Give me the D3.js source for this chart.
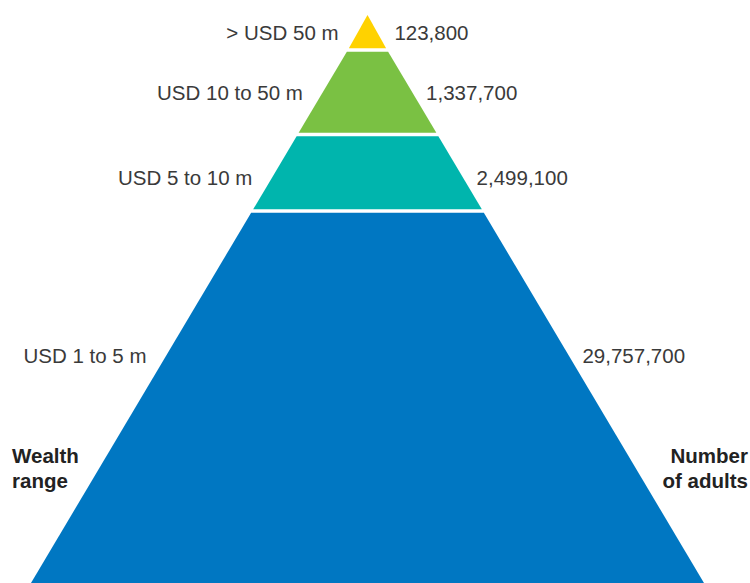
<!DOCTYPE html>
<html>
<head>
<meta charset="utf-8">
<script src="https://cdn.jsdelivr.net/npm/d3@7"></script>
<style>
  html, body { margin: 0; padding: 0; background: #fff; }
  svg { display: block; }
</style>
</head>
<body>
<svg id="chart" width="750" height="583"></svg>
<script>
// ---- data ----
const categories = ["> USD 50 m", "USD 10 to 50 m", "USD 5 to 10 m", "USD 1 to 5 m"];
const adults = [123800, 1337700, 2499100, 29757700];
const colors = ["#FFD200", "#7AC143", "#00B5AD", "#0077C2"];
const axisTitleLeft = ["Wealth", "range"];
const axisTitleRight = ["Number", "of adults"];

// ---- layout ----
const W = 750, H = 583;
const cx = 367.5, apexY = 17, baseY = 583, baseHalf = 336.5;
const tierBounds = [15, 50, 134.5, 211, 583];   // tier edges (top of pyramid to base)
const gap = 3.4;                                 // white separator
const labelY = [32, 92, 177, 355];

const svg = d3.select("#chart");

// half width of the pyramid at a given y
const half = d3.scaleLinear().domain([apexY, baseY]).range([0, baseHalf]);
const hw = y => Math.max(0, half(y));

const fmt = d3.format(",");

const tiers = categories.map((c, i) => ({
  cat: c, value: adults[i], color: colors[i],
  top: i === 0 ? tierBounds[0] : tierBounds[i] + gap / 2,
  bottom: i === categories.length - 1 ? tierBounds[i + 1] : tierBounds[i + 1] - gap / 2,
  ly: labelY[i]
}));

svg.selectAll("path.tier").data(tiers).join("path")
  .attr("class", "tier")
  .attr("fill", d => d.color)
  .attr("d", (d, i) => {
    const t = d.top, b = d.bottom;
    let topHalf = hw(t);
    if (i === 0) topHalf = 0;
    const p = d3.path();
    p.moveTo(cx - topHalf, t);
    p.lineTo(cx + topHalf, t);
    p.lineTo(cx + hw(b), b);
    p.lineTo(cx - hw(b), b);
    p.closePath();
    return p.toString();
  });

const font = "'Liberation Sans', Arial, Helvetica, sans-serif";
const fs = 20.5;

svg.selectAll("text.cat").data(tiers).join("text")
  .attr("class", "cat")
  .attr("x", d => cx - hw(d.ly) - 20)
  .attr("y", d => d.ly + 7.5)
  .attr("text-anchor", "end")
  .attr("font-family", font)
  .attr("font-size", fs)
  .attr("fill", "#3a3a3a")
  .text(d => d.cat);

svg.selectAll("text.val").data(tiers).join("text")
  .attr("class", "val")
  .attr("x", (d, i) => cx + hw(d.ly) + (i === 0 ? 18 : 14))
  .attr("y", d => d.ly + 7.5)
  .attr("text-anchor", "start")
  .attr("font-family", font)
  .attr("font-size", fs)
  .attr("fill", "#3a3a3a")
  .text(d => fmt(d.value));

svg.selectAll("text.tl").data(axisTitleLeft).join("text")
  .attr("class", "tl")
  .attr("x", 12)
  .attr("y", (d, i) => 463 + i * 25)
  .attr("font-family", font)
  .attr("font-weight", "bold")
  .attr("font-size", fs)
  .attr("fill", "#222")
  .text(d => d);

svg.selectAll("text.tr").data(axisTitleRight).join("text")
  .attr("class", "tr")
  .attr("x", 748)
  .attr("y", (d, i) => 463 + i * 25)
  .attr("text-anchor", "end")
  .attr("font-family", font)
  .attr("font-weight", "bold")
  .attr("font-size", fs)
  .attr("fill", "#222")
  .text(d => d);
</script>
</body>
</html>
